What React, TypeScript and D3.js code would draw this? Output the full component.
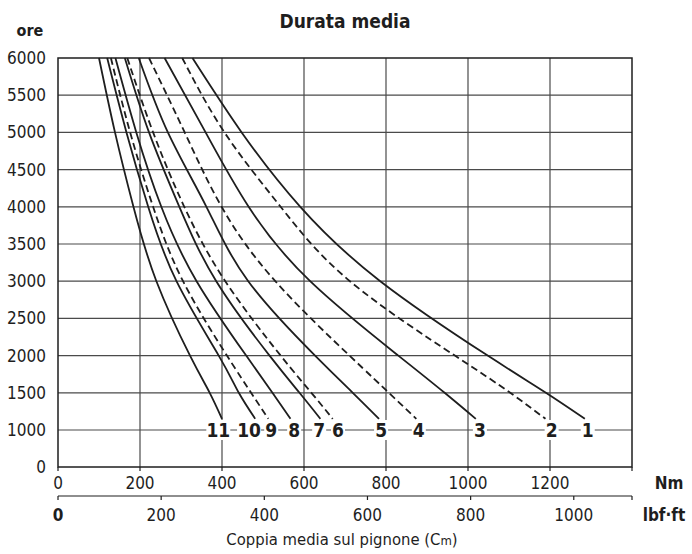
import React from 'react';
import * as d3 from 'd3';

// ---- data ----
const yTicks = [0, 1000, 1500, 2000, 2500, 3000, 3500, 4000, 4500, 5000, 5500, 6000];
const nmTicks = [0, 200, 400, 600, 800, 1000, 1200];
const lbfTicks = [0, 200, 400, 600, 800, 1000];
const hours = [6000, 5000, 4000, 3000, 2000, 1500, 1150];
const curveNames = ['1', '2', '3', '4', '5', '6', '7', '8', '9', '10', '11'];
const curveDashed = [false, true, false, true, false, true, false, false, true, false, false];
const curve1 = [328, 448, 591, 786, 1048, 1190, 1285];
const curve2 = [303, 406, 543, 712, 968, 1103, 1189];
const curve3 = [260, 360, 465, 615, 830, 943, 1019];
const curve4 = [222, 309, 399, 530, 711, 807, 874];
const curve5 = [197, 268, 362, 464, 627, 719, 783];
const curve6 = [169, 232, 308, 408, 543, 618, 670];
const curve7 = [163, 222, 296, 386, 516, 589, 640];
const curve8 = [140, 191, 252, 338, 459, 523, 567];
const curve9 = [129, 176, 232, 305, 412, 471, 513];
const curve10 = [120, 167, 220, 289, 392, 441, 481];
const curve11 = [100, 139, 184, 240, 322, 370, 400];
const curveValues = [curve1, curve2, curve3, curve4, curve5, curve6, curve7, curve8, curve9, curve10, curve11];
const labelNm = [1292, 1204, 1029, 880, 788, 683, 637, 576, 520, 466, 391];
const labelHour = 1000;
const lbfToNm = 1.258;

const FONT = "'Liberation Sans Narrow','DejaVu Sans Condensed',Roboto,sans-serif";

export default function App() {
  const W = 692, H = 554;
  const left = 58, right = 632, top = 58, bottom = 467;
  const x = d3.scaleLinear().domain([0, 1400]).range([left, right]);
  const y = d3.scaleLinear().domain([0, 1000, 6000]).range([bottom, bottom - 37, top]);
  const line = d3.line<[number, number]>()
    .x(d => x(d[0]))
    .y(d => y(d[1]))
    .curve(d3.curveNatural);
  const lbfY = 496;
  const ink = '#1e1e1e';
  const grid = '#4a4a4a';

  return (
    <svg width={W} height={H} style={{ position: 'absolute', left: 0, top: 0, background: '#fff' }} fontFamily={FONT}>
      <rect x={0} y={0} width={W} height={H} fill="#fff" />
      <text x={345} y={28} textAnchor="middle" fontSize={19} fontWeight="bold" fill={ink}>Durata media</text>
      <text x={30} y={36} textAnchor="middle" fontSize={16} fontWeight="bold" fill={ink}>ore</text>

      {/* grid */}
      {nmTicks.filter(t => t > 0).map(t => (
        <line key={'vx' + t} x1={x(t)} x2={x(t)} y1={top} y2={bottom} stroke={grid} strokeWidth={1.2} />
      ))}
      {yTicks.filter(t => t > 0 && t < 6000).map(t => (
        <line key={'hy' + t} x1={left} x2={right} y1={y(t)} y2={y(t)} stroke={grid} strokeWidth={1.2} />
      ))}
      <rect x={left} y={top} width={right - left} height={bottom - top} fill="none" stroke={ink} strokeWidth={1.5} />

      {/* y tick labels */}
      {yTicks.map(t => (
        <text key={'yl' + t} x={46} y={y(t)} dy="0.35em" textAnchor="end" fontSize={17} fill={ink}>{t}</text>
      ))}

      {/* Nm axis */}
      {[...nmTicks, 1400].map(t => (
        <line key={'nt' + t} x1={x(t)} x2={x(t)} y1={bottom} y2={bottom + 4} stroke={ink} strokeWidth={1.2} />
      ))}
      {nmTicks.map(t => (
        <text key={'nl' + t} x={x(t)} y={483} dy="0.35em" textAnchor="middle" fontSize={17} fill={ink}>{t}</text>
      ))}
      <text x={669} y={483} dy="0.35em" textAnchor="middle" fontSize={17} fontWeight="bold" fill={ink}>Nm</text>

      {/* lbf axis */}
      <line x1={left} x2={right} y1={lbfY} y2={lbfY} stroke={ink} strokeWidth={1.2} />
      {lbfTicks.map(t => (
        <line key={'lt' + t} x1={x(t * lbfToNm)} x2={x(t * lbfToNm)} y1={lbfY} y2={lbfY + 4} stroke={ink} strokeWidth={1.2} />
      ))}
      <line x1={right} x2={right} y1={lbfY} y2={lbfY + 4} stroke={ink} strokeWidth={1.2} />
      {lbfTicks.map(t => (
        <text key={'ll' + t} x={x(t * lbfToNm)} y={515} dy="0.35em" textAnchor="middle" fontSize={17}
          fontWeight={t === 0 ? 'bold' : 'normal'} fill={ink}>{t}</text>
      ))}
      <text x={664} y={515} dy="0.35em" textAnchor="middle" fontSize={17} fontWeight="bold" fill={ink}>lbf·ft</text>

      <text x={342} y={539} dy="0.35em" textAnchor="middle" fontSize={16.5} fill={ink}>
        Coppia media sul pignone (C<tspan fontSize={13}>m</tspan>)
      </text>

      {/* curves */}
      {curveValues.map((vals, i) => (
        <path key={'c' + i} d={line(vals.map((v, j) => [v, hours[j]] as [number, number])) || ''}
          fill="none" stroke={ink} strokeWidth={1.8}
          strokeDasharray={curveDashed[i] ? '7,4' : undefined} />
      ))}

      {/* curve labels */}
      {curveNames.map((n, i) => {
        const w = n.length * 10 + 4;
        return (
          <g key={'lab' + n}>
            <rect x={x(labelNm[i]) - w / 2} y={y(labelHour) - 10} width={w} height={20} fill="#fff" />
            <text x={x(labelNm[i])} y={y(labelHour)} dy="0.36em" textAnchor="middle" fontSize={19} fontWeight="bold" fill={ink}>{n}</text>
          </g>
        );
      })}
    </svg>
  );
}
